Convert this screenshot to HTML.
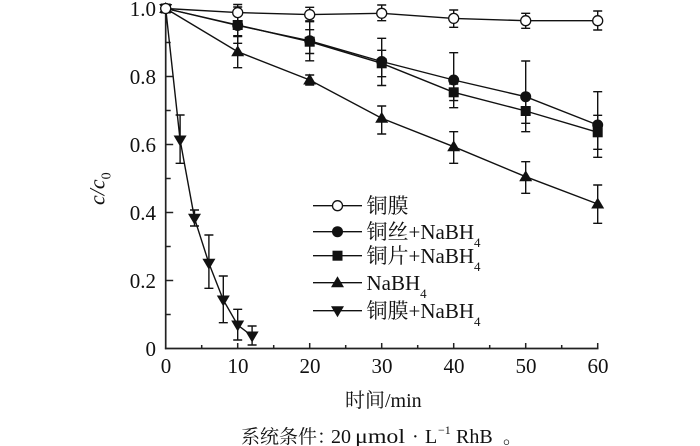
<!DOCTYPE html>
<html><head><meta charset="utf-8"><style>
html,body{margin:0;padding:0;background:#fff;}
svg{display:block;}
text{font-family:"Liberation Serif","Noto Serif CJK SC",serif;fill:#111;}
</style></head><body>
<svg width="700" height="446" viewBox="0 0 700 446" xmlns="http://www.w3.org/2000/svg">
<defs>
<g id="oc"><circle r="5" fill="#fff" stroke="#111" stroke-width="1.3"/></g>
<g id="fc"><circle r="5.5" fill="#111"/></g>
<g id="sq"><rect x="-5" y="-5" width="10" height="10" fill="#111"/></g>
<g id="tu"><polygon points="-6.5,4.5 6.5,4.5 0,-6.5" fill="#111"/></g>
<g id="td"><polygon points="-6.5,-4.5 6.5,-4.5 0,6.5" fill="#111"/></g>
</defs>

<g stroke="#222" stroke-width="1.7" fill="none">
<line x1="165.7" y1="8" x2="165.7" y2="349.3"/>
<line x1="164.9" y1="348.5" x2="598.5" y2="348.5"/>
</g>
<g stroke="#222" stroke-width="1.5">
<line x1="237.7" y1="348.5" x2="237.7" y2="343"/>
<line x1="309.7" y1="348.5" x2="309.7" y2="343"/>
<line x1="381.7" y1="348.5" x2="381.7" y2="343"/>
<line x1="453.7" y1="348.5" x2="453.7" y2="343"/>
<line x1="525.7" y1="348.5" x2="525.7" y2="343"/>
<line x1="597.7" y1="348.5" x2="597.7" y2="343"/>
<line x1="201.7" y1="348.5" x2="201.7" y2="345"/>
<line x1="273.7" y1="348.5" x2="273.7" y2="345"/>
<line x1="345.7" y1="348.5" x2="345.7" y2="345"/>
<line x1="417.7" y1="348.5" x2="417.7" y2="345"/>
<line x1="489.7" y1="348.5" x2="489.7" y2="345"/>
<line x1="561.7" y1="348.5" x2="561.7" y2="345"/>
<line x1="165.7" y1="280.5" x2="173.2" y2="280.5"/>
<line x1="165.7" y1="212.5" x2="173.2" y2="212.5"/>
<line x1="165.7" y1="144.5" x2="173.2" y2="144.5"/>
<line x1="165.7" y1="76.5" x2="173.2" y2="76.5"/>
<line x1="165.7" y1="314.5" x2="170.7" y2="314.5"/>
<line x1="165.7" y1="246.5" x2="170.7" y2="246.5"/>
<line x1="165.7" y1="178.5" x2="170.7" y2="178.5"/>
<line x1="165.7" y1="110.5" x2="170.7" y2="110.5"/>
<line x1="165.7" y1="42.5" x2="170.7" y2="42.5"/>
</g>

<g font-size="21" text-anchor="end">
<text x="156" y="356">0</text>
<text x="156" y="288">0.2</text>
<text x="156" y="220">0.4</text>
<text x="156" y="152">0.6</text>
<text x="156" y="84">0.8</text>
<text x="156" y="16">1.0</text>
</g>
<g font-size="21" text-anchor="middle">
<text x="166" y="373">0</text>
<text x="238" y="373">10</text>
<text x="310" y="373">20</text>
<text x="382" y="373">30</text>
<text x="454" y="373">40</text>
<text x="526" y="373">50</text>
<text x="598" y="373">60</text>
</g>

<text transform="translate(104.5,205) rotate(-90)" font-size="22" font-style="italic">c/c<tspan font-size="14" dy="6" font-style="normal">0</tspan></text>

<text x="345" y="407" font-size="20">时间/min</text>

<text x="241" y="443" font-size="19">系统条件：</text>
<text x="331" y="443" font-size="20">20</text>
<text x="355" y="443" font-size="20" textLength="50" lengthAdjust="spacingAndGlyphs">μmol</text>
<text x="412" y="443" font-size="20">·</text>
<text x="425" y="443" font-size="20">L</text>
<text x="438" y="434" font-size="12">−1</text>
<text x="456" y="443" font-size="20">RhB</text>
<text x="503" y="443" font-size="19">。</text>

<g fill="none" stroke="#111" stroke-width="1.4">
<polyline points="165.7,8.5 237.7,12.6 309.7,14.6 381.7,13.3 453.7,18.4 525.7,20.7 597.7,20.7"/>
<polyline points="165.7,8.5 237.7,25.5 309.7,40.8 381.7,61.5 453.7,80 525.7,96.7 597.7,125"/>
<polyline points="165.7,8.5 237.7,25 309.7,41.7 381.7,63.3 453.7,92.3 525.7,111 597.7,132.3"/>
<polyline points="165.7,8.5 237.7,51.7 309.7,80 381.7,118.3 453.7,146.7 525.7,176.7 597.7,204"/>
<polyline points="165.7,8.5 180.1,140 194.5,218.3 208.9,263.3 223.3,300 237.7,325 252.1,336"/>
</g>

<g fill="none" stroke="#111" stroke-width="1.4">
<path d="M237.7,4.5V20.7M233.2,4.5h9M233.2,20.7h9
M309.7,7.3V21.7M305.2,7.3h9M305.2,21.7h9
M381.7,5V20.7M377.2,5h9M377.2,20.7h9
M453.7,10V27.3M449.2,10h9M449.2,27.3h9
M525.7,13.3V28.3M521.2,13.3h9M521.2,28.3h9
M597.7,11V30M593.2,11h9M593.2,30h9"/>
<path d="M237.7,14.5V36.5M233.2,14.5h9M233.2,36.5h9
M309.7,20.8V60.8M305.2,20.8h9M305.2,60.8h9
M381.7,38.3V85.5M377.2,38.3h9M377.2,85.5h9
M453.7,52.7V107.7M449.2,52.7h9M449.2,107.7h9
M525.7,61V131.7M521.2,61h9M521.2,131.7h9
M597.7,91.7V157.3M593.2,91.7h9M593.2,157.3h9"/>
<path d="M237.7,7V43.3M233.2,7h9M233.2,43.3h9
M309.7,29.7V53.5M305.2,29.7h9M305.2,53.5h9
M381.7,50.3V76.7M377.2,50.3h9M377.2,76.7h9
M453.7,84V100.6M449.2,84h9M449.2,100.6h9
M525.7,98.7V123.3M521.2,98.7h9M521.2,123.3h9
M597.7,115.3V149.3M593.2,115.3h9M593.2,149.3h9"/>
<path d="M237.7,35.7V67.7M233.2,35.7h9M233.2,67.7h9
M309.7,75V85M305.2,75h9M305.2,85h9
M381.7,106V134M377.2,106h9M377.2,134h9
M453.7,131.7V163.3M449.2,131.7h9M449.2,163.3h9
M525.7,161.7V193.3M521.2,161.7h9M521.2,193.3h9
M597.7,185V223.3M593.2,185h9M593.2,223.3h9"/>
<path d="M180.1,115V163.3M175.6,115h9M175.6,163.3h9
M194.5,210V226M190,210h9M190,226h9
M208.9,235V288.3M204.4,235h9M204.4,288.3h9
M223.3,276V322.7M218.8,276h9M218.8,322.7h9
M237.7,309.3V340M233.2,309.3h9M233.2,340h9
M252.1,326V345M247.6,326h9M247.6,345h9"/>
</g>

<use href="#fc" x="237.7" y="25.5"/><use href="#fc" x="309.7" y="40.8"/><use href="#fc" x="381.7" y="61.5"/><use href="#fc" x="453.7" y="80"/><use href="#fc" x="525.7" y="96.7"/><use href="#fc" x="597.7" y="125"/>
<use href="#sq" x="237.7" y="25"/><use href="#sq" x="309.7" y="41.7"/><use href="#sq" x="381.7" y="63.3"/><use href="#sq" x="453.7" y="92.3"/><use href="#sq" x="525.7" y="111"/><use href="#sq" x="597.7" y="132.3"/>
<use href="#tu" x="237.7" y="51.7"/><use href="#tu" x="309.7" y="80"/><use href="#tu" x="381.7" y="118.3"/><use href="#tu" x="453.7" y="146.7"/><use href="#tu" x="525.7" y="176.7"/><use href="#tu" x="597.7" y="204"/>
<use href="#td" x="180.1" y="140"/><use href="#td" x="194.5" y="218.3"/><use href="#td" x="208.9" y="263.3"/><use href="#td" x="223.3" y="300"/><use href="#td" x="237.7" y="325"/><use href="#td" x="252.1" y="336"/>
<use href="#fc" x="165.7" y="8.5"/><use href="#sq" x="165.7" y="8.5"/><use href="#tu" x="165.7" y="8.5"/><use href="#td" x="165.7" y="8.5"/>
<use href="#oc" x="237.7" y="12.6"/><use href="#oc" x="309.7" y="14.6"/><use href="#oc" x="381.7" y="13.3"/><use href="#oc" x="453.7" y="18.4"/><use href="#oc" x="525.7" y="20.7"/><use href="#oc" x="597.7" y="20.7"/>
<use href="#oc" x="165.7" y="8.5"/>

<g stroke="#111" stroke-width="1.4">
<line x1="313" y1="205.7" x2="362" y2="205.7"/>
<line x1="313" y1="231.7" x2="362" y2="231.7"/>
<line x1="313" y1="255.7" x2="362" y2="255.7"/>
<line x1="313" y1="282.7" x2="362" y2="282.7"/>
<line x1="313" y1="310.7" x2="362" y2="310.7"/>
</g>
<use href="#oc" x="337.5" y="205.7"/>
<use href="#fc" x="337.5" y="231.7"/>
<use href="#sq" x="337.5" y="255.7"/>
<use href="#tu" x="337.5" y="282.7"/>
<use href="#td" x="337.5" y="310.7"/>
<g font-size="21">
<text x="366.5" y="213">铜膜</text>
<text x="366.5" y="239">铜丝+NaBH<tspan font-size="13" dy="8">4</tspan></text>
<text x="366.5" y="263">铜片+NaBH<tspan font-size="13" dy="8">4</tspan></text>
<text x="366.5" y="290">NaBH<tspan font-size="13" dy="8">4</tspan></text>
<text x="366.5" y="318">铜膜+NaBH<tspan font-size="13" dy="8">4</tspan></text>
</g>
</svg>
</body></html>
